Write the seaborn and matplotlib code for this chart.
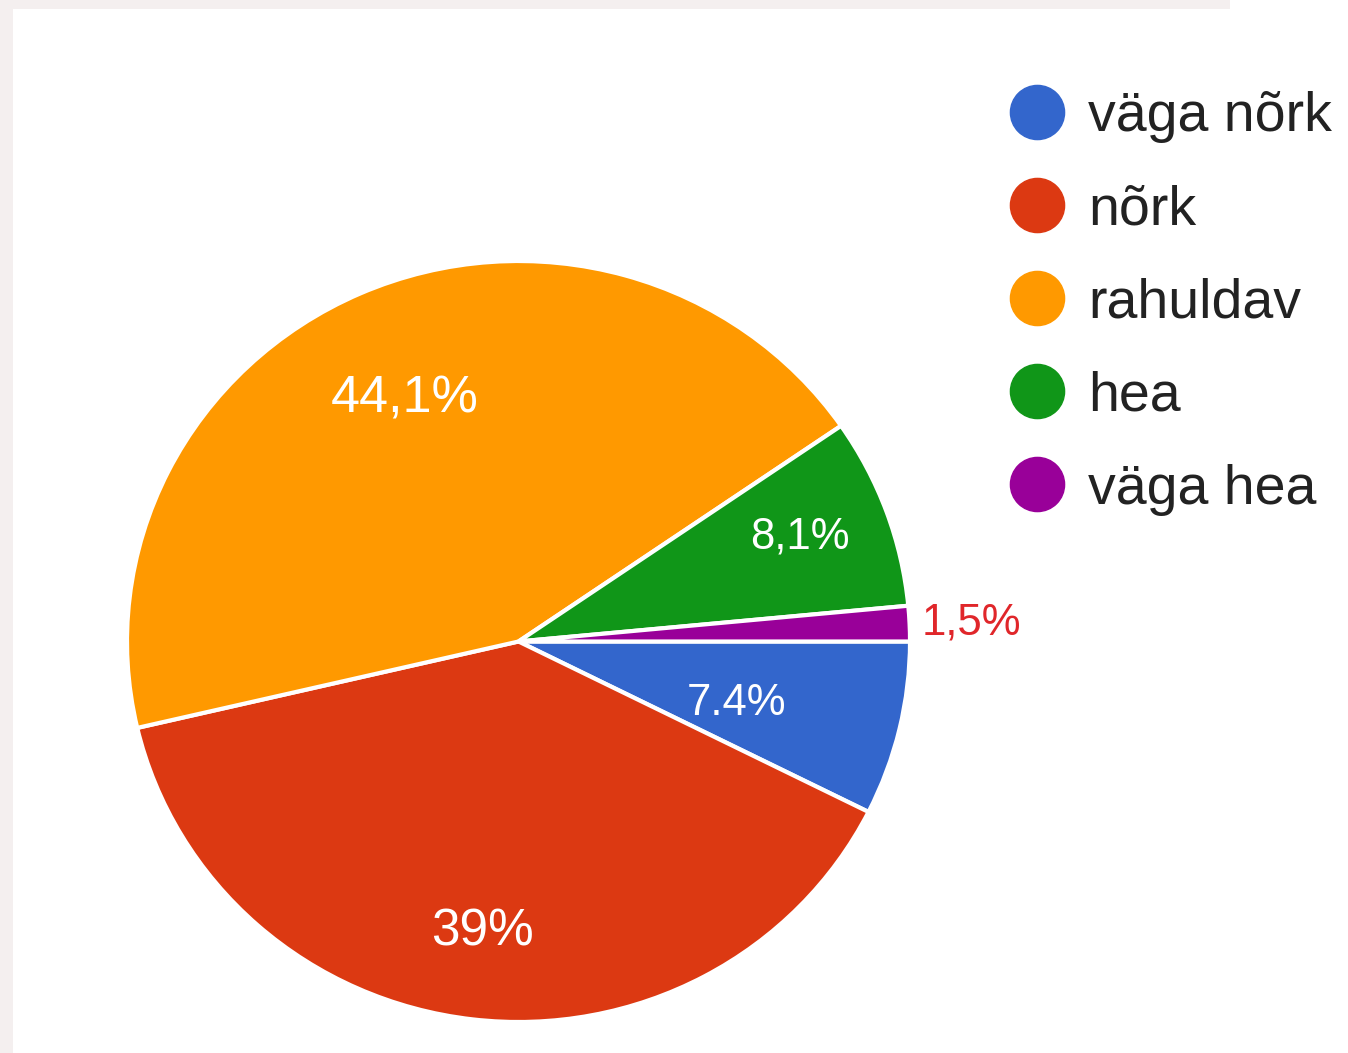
#!/usr/bin/env python3
import numpy as np
import matplotlib
matplotlib.use("Agg")
import matplotlib.pyplot as plt
from matplotlib.lines import Line2D
from matplotlib.patches import Rectangle
import seaborn as sns

# data (Google Forms style pie)
categories = ["väga nõrk", "nõrk", "rahuldav", "hea", "väga hea"]
shares = [7.4, 39.0, 44.1, 8.1, 1.5]
pct_labels = ["7.4%", "39%", "44,1%", "8,1%", "1,5%"]
colors = ["#3366cc", "#dc3912", "#ff9900", "#109618", "#990099"]

sns.set_theme(style="white")
plt.rcParams["font.family"] = ["Liberation Sans", "DejaVu Sans"]

W, H = 1348, 1053
fig = plt.figure(figsize=(W / 100, H / 100), dpi=100, facecolor="white")

# light grey screenshot border on left and top
fig.add_artist(Rectangle((0, 0), 13 / W, 1, transform=fig.transFigure,
                         color="#f4efef", lw=0, zorder=0))
fig.add_artist(Rectangle((0, 1 - 9 / H), 1230 / W, 9 / H, transform=fig.transFigure,
                         color="#f4efef", lw=0, zorder=0))

# axes box = pie bounding box (the screenshot is slightly stretched sideways)
left, right, top, bottom = 127, 910, 261, 1022
ax = fig.add_axes([left / W, 1 - bottom / H, (right - left) / W, (bottom - top) / H])
wedges, _ = ax.pie(shares, colors=colors, startangle=0, counterclock=False,
                   radius=1, wedgeprops=dict(edgecolor="white", linewidth=3))
ax.set_aspect("auto")
ax.set_xlim(-1, 1)
ax.set_ylim(-1, 1)
ax.axis("off")

# label placement: fraction of radius, small angle nudge, font size
label_r = [0.58, 0.77, 0.70, 0.77, 1.03]
label_nudge = [-2.9, -0.2, 0.6, 0.9, 0.0]
label_fs = [31.5, 37, 37.5, 31.5, 31.5]
for w, txt, r, dt, fs in zip(wedges, pct_labels, label_r, label_nudge, label_fs):
    mid = np.deg2rad((w.theta1 + w.theta2) / 2 + dt)
    x, y = r * np.cos(mid), r * np.sin(mid)
    if r > 1:
        ax.text(x, y, txt, ha="left", va="center", fontsize=fs, color="#e0262a")
    else:
        ax.text(x, y, txt, ha="center", va="center", fontsize=fs, color="white")

handles = [Line2D([], [], marker="o", linestyle="none", markersize=39,
                  markerfacecolor=c, markeredgecolor=c) for c in colors]
fig.legend(handles, categories, loc="upper left",
           bbox_to_anchor=(987 / W, 1 - 69 / H), frameon=False,
           fontsize=40, labelspacing=0.74, handletextpad=0.42,
           handlelength=1.0, borderaxespad=0, labelcolor="#222222")

fig.savefig("out.png", dpi=100, facecolor="white")
